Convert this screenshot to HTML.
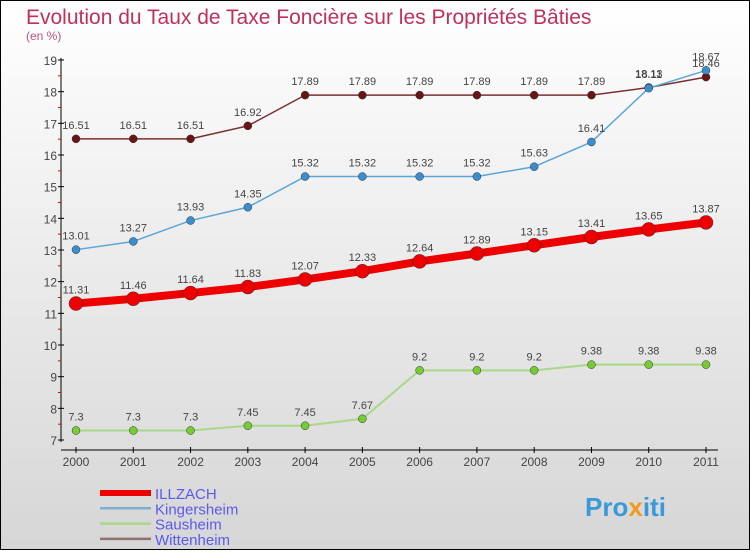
<!DOCTYPE html>
<html><head><meta charset="utf-8"><style>
body{margin:0}
#c{width:750px;height:550px;position:relative;font-family:"Liberation Sans",sans-serif}
</style></head><body>
<div id="c">
<svg id="s" width="750" height="550" xmlns="http://www.w3.org/2000/svg">
<defs><linearGradient id="bg" x1="0" y1="0" x2="0" y2="1"><stop offset="0" stop-color="#ffffff"/><stop offset="1" stop-color="#d6d6d6"/></linearGradient></defs>
<rect x="0.5" y="0.5" width="749" height="549" fill="url(#bg)" stroke="#000"/>
<text x="26" y="24" font-size="21" fill="#c0305a">Evolution du Taux de Taxe Foncière sur les Propriétés Bâties</text>
<text x="26" y="40" font-size="12" fill="#c0507a">(en %)</text>
<g id="axes"></g><g id="series"></g><g id="legend"></g>
<text x="585" y="516" font-size="26" font-weight="bold" fill="#3a9ad9">Pro<tspan fill="#f29a1e">x</tspan>iti</text>
</svg></div>
<script>
const years=["2000","2001","2002","2003","2004","2005","2006","2007","2008","2009","2010","2011"];
const yTicks=[7,8,9,10,11,12,13,14,15,16,17,18,19];
const illzach=[11.31,11.46,11.64,11.83,12.07,12.33,12.64,12.89,13.15,13.41,13.65,13.87];
const kingersheim=[13.01,13.27,13.93,14.35,15.32,15.32,15.32,15.32,15.63,16.41,18.11,18.67];
const sausheim=[7.3,7.3,7.3,7.45,7.45,7.67,9.2,9.2,9.2,9.38,9.38,9.38];
const wittenheim=[16.51,16.51,16.51,16.92,17.89,17.89,17.89,17.89,17.89,17.89,18.13,18.46];
const NS="http://www.w3.org/2000/svg";
const X=i=>76+i*(630/11);
const Y=v=>440-(v-7)*(380/12);
function mk(t,a,p){const e=document.createElementNS(NS,t);for(const k in a)e.setAttribute(k,a[k]);p.appendChild(e);return e;}
const ax=document.getElementById('axes');
let l=mk('line',{x1:61,y1:58,x2:61,y2:442,stroke:'#000'},ax);


l=mk('line',{x1:61,y1:450,x2:718,y2:450,stroke:'#000'},ax);


yTicks.forEach(v=>{
 mk('line',{x1:58,y1:Y(v),x2:64,y2:Y(v),stroke:'#000'},ax);
 if(v<19)mk('line',{x1:58,y1:Y(v+0.5),x2:61,y2:Y(v+0.5),stroke:'#e00'},ax);
 const t=mk('text',{x:57,y:Y(v)+5,'font-size':12,'text-anchor':'end',fill:'#444'},ax);t.textContent=v;
 
 
});
years.forEach((y,i)=>{
 mk('line',{x1:X(i),y1:447,x2:X(i),y2:453,stroke:'#000'},ax);
 const t=mk('text',{x:X(i),y:466,'font-size':12,'text-anchor':'middle',fill:'#444'},ax);t.textContent=y;
 
 
});
const sg=document.getElementById('series');
function series(d,name,col,w,r,dot,labels){
 const g=mk('g',{},sg);
 
 
 mk('polyline',{points:d.map((v,i)=>X(i)+','+Y(v)).join(' '),fill:'none',stroke:col,'stroke-width':w,'stroke-linejoin':'round'},g);
 d.forEach((v,i)=>{
  const c=mk('circle',{cx:X(i),cy:Y(v),r:r,fill:dot,stroke:'#333','stroke-width':0.5},g);
  
  
  const t=mk('text',{x:X(i),y:Y(v)-10,'font-size':11,'text-anchor':'middle',fill:'#444'},g);t.textContent=labels?labels[i]:v;
 });
}
series(sausheim,'sausheim','#a8d888',2,4,'#77cc33');
series(wittenheim,'wittenheim','#7a3030',1.5,4,'#6a1515');
series(kingersheim,'kingersheim','#5aa6d6',1.5,4,'#3a8ed0');
series(illzach,'illzach','#ee0000',8,7,'#ee0000');
const lg=document.getElementById('legend');
[['ILLZACH','#ee0000',6],['Kingersheim','#80aed0',2.5],['Sausheim','#a8d888',2.5],['Wittenheim','#907070',2.5]].forEach((e,i)=>{
 const y=493+i*15.3;
 const g=mk('g',{},lg);
 
 
 mk('line',{x1:100,y1:y,x2:151,y2:y,stroke:e[1],'stroke-width':e[2]},g);
 const t=mk('text',{x:155,y:y+6,'font-size':15,fill:'#5a5aee'},g);t.textContent=e[0];
});
</script>
</body></html>
